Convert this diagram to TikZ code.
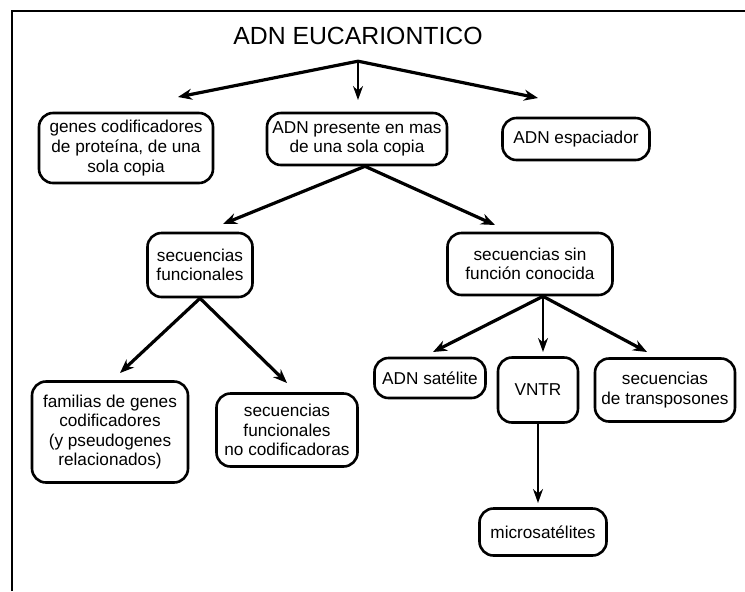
\documentclass[tikz,border=0pt]{standalone}
\usepackage{fontspec}
\setmainfont{Liberation Sans}
\usetikzlibrary{arrows.meta}

\begin{document}
\begin{tikzpicture}[x=0.5pt,y=-0.5pt,
  caja/.style={draw,line width=1.3pt,rounded corners=7pt,align=center,inner sep=1pt,font=\fontsize{8.6}{9.8}\selectfont},
  flecha/.style={line width=1.6pt,-{Stealth[length=7pt,width=5.5pt]}},
  flechav/.style={line width=0.9pt,-{Stealth[length=7pt,width=5pt]}}]
\useasboundingbox (0,0) rectangle (745,591);
\draw[line width=1.3pt] (12,591)--(12,11)--(745,11);
\node[font=\fontsize{12.4}{14}\selectfont,inner ysep=8pt] (titulo) at (358,36) {ADN EUCARIONTICO};
\node[caja,minimum width=87pt,minimum height=35pt] (b1) at (126,148) {genes codificadores\\de proteína, de una\\sola copia};
\node[caja,minimum width=90pt,minimum height=26pt] (b2) at (357,139) {ADN presente en mas\\de una sola copia};
\node[caja,minimum width=73.5pt,minimum height=21pt] (b3) at (576,139) {ADN espaciador};
\node[caja,minimum width=52.5pt,minimum height=32pt] (b4) at (200,265) {secuencias\\funcionales};
\node[caja,minimum width=82.5pt,minimum height=31pt] (b5) at (530,264) {secuencias sin\\función conocida};
\node[caja,minimum width=78pt,minimum height=50.5pt] (b6) at (110,432) {familias de genes\\codificadores\\(y pseudogenes\\relacionados)};
\node[caja,minimum width=70.5pt,minimum height=36.5pt] (b7) at (287,430) {secuencias\\funcionales\\no codificadoras};
\node[caja,minimum width=55.5pt,minimum height=20pt] (b8) at (430,378) {ADN satélite};
\node[caja,minimum width=40pt,minimum height=32.5pt] (b9) at (538,390) {VNTR};
\node[caja,minimum width=70pt,minimum height=31.5pt] (b10) at (665,390) {secuencias\\de transposones};
\node[caja,minimum width=63.5pt,minimum height=23.5pt] (b11) at (543,532) {microsatélites};
\coordinate (t1) at (178,97);
\coordinate (t2) at (358,100);
\coordinate (t3) at (538,98);
\coordinate (t4) at (223,224);
\coordinate (t5) at (495,225);
\coordinate (t6) at (120,373);
\coordinate (t7) at (287,383);
\coordinate (t8) at (433,352);
\coordinate (t9) at (543,352);
\coordinate (t10) at (647,352);
\coordinate (t11) at (538,503);
\draw[flecha] (titulo.south) -- (t1);
\draw[flechav] (titulo.south) -- (t2);
\draw[flecha] (titulo.south) -- (t3);
\draw[flecha] ([xshift=4pt]b2.south) -- (t4);
\draw[flecha] ([xshift=4pt]b2.south) -- (t5);
\draw[flecha] (b4.south) -- (t6);
\draw[flecha] (b4.south) -- (t7);
\draw[flecha] ([xshift=6.5pt]b5.south) -- (t8);
\draw[flechav] ([xshift=6.5pt]b5.south) -- (t9);
\draw[flecha] ([xshift=6.5pt]b5.south) -- (t10);
\draw[flechav] (b9.south) -- (t11);
\end{tikzpicture}
\end{document}
